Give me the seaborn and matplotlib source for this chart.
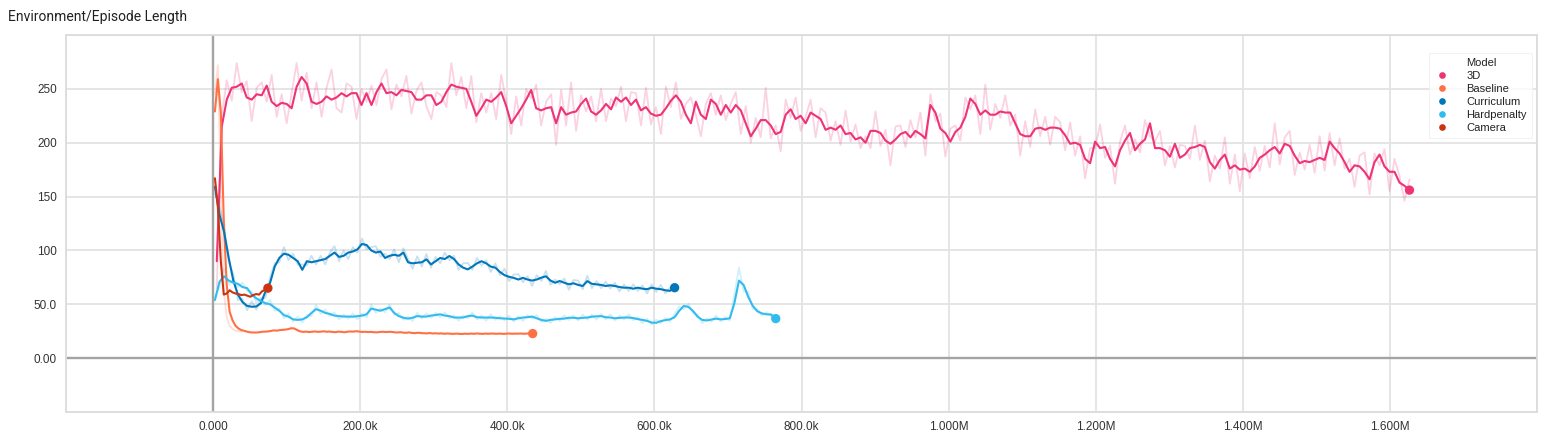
import numpy as np
import pandas as pd
import seaborn as sns
import matplotlib.pyplot as plt
from matplotlib.lines import Line2D

models = ['3D', 'Baseline', 'Curriculum', 'Hardpenalty', 'Camera']
colors = ['#ee3377', '#ff7043', '#0077bb', '#33bbee', '#cc3311']

# first logged step and logging interval of every run
first_step = {'3D': 5000, 'Baseline': 2500, 'Curriculum': 2500, 'Hardpenalty': 2500, 'Camera': 2500}
log_every = {'3D': 6785, 'Baseline': 4000, 'Curriculum': 6250, 'Hardpenalty': 6250, 'Camera': 4000}

# smoothed episode length
smooth_3d = [
    90,
    215, 240, 251, 252, 255, 242, 240, 245, 244, 253, 238, 234, 237, 236, 232, 252, 261, 255, 238, 236,
    238, 243, 240, 242, 246, 243, 246, 246, 235, 246, 235, 247, 255, 246, 247, 244, 249, 248, 247, 240,
    240, 244, 244, 235, 238, 247, 254, 252, 251, 250, 238, 225, 232, 240, 238, 242, 247, 234, 218, 225,
    232, 240,
    249, 232, 230, 232, 233, 218, 233, 226, 228, 229, 236, 241, 229, 226, 230, 236, 231, 242, 238, 242,
    235, 240, 230, 233, 227, 225, 226, 232, 239, 244, 238, 226, 218, 238, 226, 222, 240, 236, 226, 235,
    228, 235, 230, 218, 206, 213, 221, 221, 216, 208, 210, 226, 231, 222, 225, 218, 228, 225, 222, 212,
    214, 212, 216,
    208, 209, 203, 205, 200, 211, 211, 209, 202, 199, 203, 208, 210, 205, 211, 208, 204, 235, 228, 213,
    209, 201, 210, 214, 224, 241, 236, 226, 230, 226, 226, 229, 228, 228, 218, 208, 206, 206, 213, 214,
    212, 214, 214, 213, 207, 199, 200, 198, 185, 181, 201, 195, 196, 185, 178, 193, 202, 209, 193, 199,
    203, 218, 195,
    195, 193, 187, 199, 186, 189, 195, 196, 198, 196, 182, 176, 184, 189, 176, 179, 175, 176, 173, 178,
    186, 189, 193, 196, 190, 199, 197, 188, 181, 183, 182, 184, 186, 184, 201, 195, 190, 182, 173, 179,
    178, 173, 166, 182, 189, 178, 173, 173, 163, 160, 156,
]
smooth_baseline = [
    229, 259, 228, 128, 68, 43, 35, 30, 27.5, 26, 25.3, 24.5, 24, 23.8, 23.8, 24, 24.5, 24.6, 24.8, 25.2,
    25.8, 25.5, 26, 26.3, 26.5, 27, 27.8, 27.5, 26, 24.8, 24.4, 24.6, 24.2, 24.5, 24.8, 24.4, 24.6, 24.9,
    24.5, 24.7, 24.3, 24.1, 24.6, 24.4, 24.0, 24.5, 24.8, 24.6, 25, 24.7, 24.3, 24.5, 24.2, 24.4, 24.1,
    23.9, 24.3, 24.5, 24.2, 24.4, 24.4, 24.0, 23.8, 24.1, 23.7, 23.5, 23.9, 23.4, 23.2, 23.6, 23.3, 23.1,
    23.0, 23.3, 22.9, 23.1, 22.8, 23.0, 22.6, 22.9, 22.7, 22.5, 22.8, 22.6, 22.4, 22.7, 22.5, 22.8, 22.6,
    22.9, 22.7, 22.5, 22.8, 22.6, 22.9, 22.7, 22.6, 22.8, 22.5, 22.7, 22.9, 22.6, 22.8, 22.7, 22.9, 22.6,
    22.8, 23.0, 22.8,
]
smooth_curriculum = [
    159, 133, 117, 93, 72, 59, 52, 48.5, 47.7, 48, 51, 62, 70, 85, 93, 97, 96, 93, 90, 82,
    90, 89, 90, 91, 92, 95, 98, 94, 95, 98, 99, 101, 106, 105, 100, 98, 99, 93, 95, 96,
    95, 98, 89, 88, 88.6, 89, 91.7, 87, 90, 93, 92, 94.8, 92, 87, 84, 82.4, 85, 88, 90, 88,
    85, 84, 80, 77, 75.5, 74.5, 73, 74.5, 73, 72, 73, 74.7, 76, 72, 70, 71.6, 70, 68.5, 69.5, 68,
    67, 71.5, 69, 68.5, 68, 67, 67.6, 67, 66, 65.4, 65.4, 64.5, 65.4, 64.5, 64, 65.4, 64.5, 64, 63,
    62.5, 65.4,
]
smooth_hardpenalty = [
    54, 71, 76, 72, 70, 69, 66, 65, 59, 55.5, 53, 51, 50, 47, 44, 40, 38.5, 36, 35.5, 36,
    38, 42, 45.5, 44, 42, 41, 39.5, 39, 38.6, 38.6, 38.5, 39, 39.5, 40.7, 46, 45, 44, 45.5, 47, 42,
    39, 37.5, 36.7, 37.5, 39, 38.6, 38.6, 39.5, 40, 40.7, 39.5, 39, 37.7, 37.7, 37.7, 39, 39.5, 38,
    37.7, 37.7, 37.7, 37.5, 37, 36.8, 36.5, 36, 37, 37.7, 38, 38.6, 37, 35.5, 34.6, 35.5, 36, 36.5,
    36.7, 37.5, 37.5, 37, 37.4, 37.7, 38.5, 38.8, 39, 38, 37.7, 37, 37.4, 37.7, 37.7, 37.2, 36.2,
    35.5, 34.6, 33, 32.8, 34.4, 35.3, 36, 38, 44, 48.5, 47.5, 43.8, 38.5, 35.5, 35, 35.8, 36.7, 36,
    36.3, 37, 51, 72, 68, 57, 48.5, 43.5, 41.5, 40.7, 40.5, 36.7,
]
smooth_camera = [167, 140, 90, 59, 60, 63, 61, 60, 59.5, 58.5, 59, 58, 57, 58.5, 59.5, 59, 62, 63.5, 65]

dev_3d = [
    -25, 10, 18, -12, 22, -8, 15, -20, 6, 12, -15, 25, -10, 8, -18, 14, 22, -22, 10, -6,
    20, -14, 8, 28, -10, -18, 12, 6, -24, 15, -8, 18, -12, 4, 22, -16, 10, -6, 14, -20,
    8, 16, -10, -22, 12, 6, -14, 20, -8, 10, -18, 24, -6, 14, -12, 8, -20, 16, 4, -10,
    18, -16, 10, -8, 22, -14, 6, 12, -20, 16, -10, 28, -18, 8, -12, 14, -6, 20, -16, 10,
    -8, 14, -22, 12, 6, -14, 18, -10, 8, -18, 20, -6, 12, -16, 10, 24, -12, -20, 14, 6,
    -10, 18, -14, 8, 12, -22, 16, -6, 10, -16, 30, -12, 8, -18, 14, -8, 20, -14, 6, 12,
    -20, 10, 16, -12, 8, -18, 22, -8, 14, -10, 6, -16, 18, -12, 10, -20, 12, 8, -14, 16,
    -6, 20, -16, 10, -8, 14, -22, 12, 6, -12, 18, -10, 8, -18, 24, -14, 10, -6, 16, -12,
    8, -20, 14, -10, 18, -8, 12, -16, 10, 6, -14, 20, -12, 8, -18, 14, -6, 22, -10, 12,
    -16, 8, 14, -20, 10, -8, 18, -12, 6, 16, -14, 10, -22, 12, 8, -10, 20, -14, 6, -18,
    12, -8, 16, -14, 10, -20, 14, -6, 18, -12, 8, -16, 22, -10, 6, 14, -18, 10, -8, 16,
    -12, 20, -10, 8, -16, 14, -6, 12, -20, 10, 18, -14, 8, -10, 16, -18, 12, 6, -14, 10,
]
dev_curriculum = [
    -6, 8, 5, -4, 6, -5, 3, -4, 5, -3, 4, -6, 5, 3, -4, 6, -5, 4, -3, 5,
    -4, 6, -3, 4, -5, 3, 6, -4, 5, -6, 4, -3, 5, -4, 3, 6, -5, 4, -3, 5,
    -6, 4, 3, -5, 6, -4, 5, -3, 4, -5, 6, -4, 3, -5, 4, 6, -3, 5, -4, 3,
    -5, 4, -3, 6, -4, 3, 5, -4, 3, -5, 4, -3, 5, -4, 3, -3, 4, -5, 3, 4,
    -3, 5, -4, 3, -3, 4, -3, 3, -4, 3, -3, 4, -3, 3, -4, 3, -3, 4, -3, 3, -2,
]
dev_hardpenalty = [
    3, -5, 7, -4, 3, -3, 4, -3, 3, -4, 3, -2, 4, -3, 2, -3, 3, -2, 3, -3,
    2, -3, 4, -3, 3, -2, 3, -3, 2, -2, 3, -3, 2, -3, 4, -3, 2, -3, 3, -2,
    3, -2, 2, -3, 3, -2, 3, -2, 2, -3, 3, -2, 2, -3, 2, -2, 3, -2, 2, -3,
    3, -2, 2, -2, 3, -2, 2, -3, 2, -2, 3, -2, 2, -3, 2, -2, 3, -2, 2, -2,
    3, -2, 2, -3, 2, -2, 3, -2, 2, -2, 3, -2, 2, -3, 2, -2, 3, -2, 2, -2,
    3, 4, -3, 3, -2, 2, -3, 2, -2, 3, -2, 2, -2, 8, 12, -6, 5, -3, 2, -2,
    2, -2, 2,
]
raw_baseline_head = [245, 272, 150, 62, 38, 30, 27, 25.5, 25, 24.8]

x_ticks = [-200000, 0, 200000, 400000, 600000, 800000, 1000000, 1200000, 1400000, 1600000, 1800000]
x_labels = ['', '0.000', '200.0k', '400.0k', '600.0k', '800.0k', '1.000M', '1.200M', '1.400M', '1.600M', '']
y_ticks = [-50, 0, 50, 100, 150, 200, 250, 300]
y_labels = ['', '0.00', '50.0', '100', '150', '200', '250', '']

smooth = {'3D': smooth_3d, 'Baseline': smooth_baseline, 'Curriculum': smooth_curriculum,
          'Hardpenalty': smooth_hardpenalty, 'Camera': smooth_camera}
raw = {'3D': np.array(smooth_3d) + np.array(dev_3d[:len(smooth_3d)]),
       'Baseline': raw_baseline_head,
       'Curriculum': np.array(smooth_curriculum) + np.array(dev_curriculum),
       'Hardpenalty': np.array(smooth_hardpenalty) + np.array(dev_hardpenalty)}


def to_frame(series):
    parts = []
    for m, vals in series.items():
        steps = first_step[m] + log_every[m] * np.arange(len(vals))
        parts.append(pd.DataFrame({'step': steps, 'value': vals, 'Model': m}))
    return pd.concat(parts, ignore_index=True)


df = to_frame(smooth)
df_raw = to_frame(raw)
last = df.groupby('Model').tail(1)
palette = dict(zip(models, colors))

sns.set_style('white')
plt.rcParams['font.family'] = ['Liberation Sans', 'DejaVu Sans']

fig = plt.figure(figsize=(15.5, 4.37), dpi=100)
ax = fig.add_axes([66 / 1550, 1 - 412 / 437, (1537 - 66) / 1550, (412 - 35) / 437])

ax.axhline(0, color='#a3a3a3', lw=1.7, zorder=1.5)
ax.axvline(0, color='#a3a3a3', lw=1.7, zorder=1.5)

sns.lineplot(data=df_raw, x='step', y='value', hue='Model', palette=palette, hue_order=models,
             estimator=None, sort=False, lw=1.3, alpha=0.22, legend=False, ax=ax)
sns.lineplot(data=df, x='step', y='value', hue='Model', palette=palette, hue_order=models,
             estimator=None, sort=False, lw=1.5, legend=False, ax=ax)
sns.scatterplot(data=last, x='step', y='value', hue='Model', palette=palette, hue_order=models,
                s=45, edgecolor='none', legend=False, ax=ax, zorder=5)

ax.set_xlim(-200000, 1800000)
ax.set_ylim(-50, 300)
ax.set_xticks(x_ticks)
ax.set_xticklabels(x_labels)
ax.set_yticks(y_ticks)
ax.set_yticklabels(y_labels)
ax.set_xlabel('')
ax.set_ylabel('')
ax.grid(True, color='#e3e3e3', lw=1.3)
ax.set_axisbelow(True)
ax.tick_params(direction='out', length=3.5, width=1, color='#d5d5d5', labelsize=8.5,
               labelcolor='#333333', pad=3)
for sp in ax.spines.values():
    sp.set_color('#dcdcdc')
    sp.set_linewidth(1.3)

handles = [Line2D([], [], ls='none')] + [
    Line2D([], [], ls='none', marker='o', markersize=4.8, markerfacecolor=c, markeredgecolor='none')
    for c in colors]
leg = ax.legend(handles, ['Model'] + models, loc='upper left',
                bbox_to_anchor=(1429 / 1550, 1 - 53 / 437), bbox_transform=fig.transFigure,
                frameon=True, fontsize=8, handlelength=1.4, handletextpad=1.5, borderpad=0.45,
                labelspacing=0.27, framealpha=0.8, edgecolor='#f0f0f0', fancybox=False,
                borderaxespad=0)
leg.get_frame().set_linewidth(0.8)
for t in leg.get_texts():
    t.set_color('#222222')

fig.text(8 / 1550, 1 - 17 / 437, 'Environment/Episode Length', ha='left', va='center',
         fontsize=10, color='#212121', family=['Roboto', 'DejaVu Sans'])

fig.savefig('out.png', dpi=100)
